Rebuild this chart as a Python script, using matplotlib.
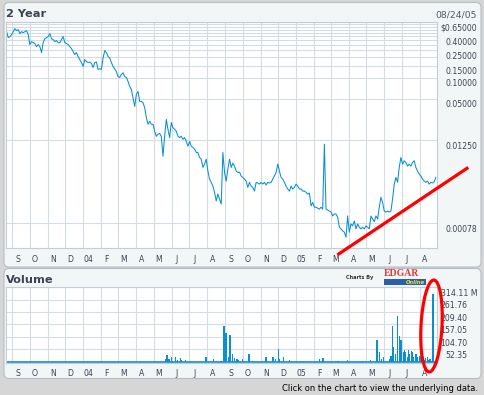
import numpy as np
import pandas as pd
import matplotlib
matplotlib.use("Agg")
import matplotlib.pyplot as plt
import matplotlib.dates as mdates
import matplotlib.transforms as mtransforms
from matplotlib.patches import FancyBboxPatch, Rectangle, Ellipse
from matplotlib.lines import Line2D
from matplotlib.ticker import FixedLocator, FuncFormatter, NullFormatter, NullLocator

# ---- data ----
price = [
    0.466, 0.382, 0.395, 0.422, 0.466, 0.515, 0.482, 0.498, 0.436, 0.466,
    0.451, 0.466, 0.482, 0.422, 0.303, 0.334, 0.323, 0.313, 0.283, 0.303,
    0.283, 0.232, 0.323, 0.369, 0.382, 0.395, 0.436, 0.369, 0.357, 0.334,
    0.346, 0.323, 0.323, 0.357, 0.395, 0.323, 0.313, 0.303, 0.283, 0.265,
    0.240, 0.217, 0.232, 0.203, 0.184, 0.166, 0.146, 0.184, 0.172, 0.166,
    0.169, 0.161, 0.141, 0.166, 0.169, 0.132, 0.135, 0.132, 0.194, 0.248,
    0.232, 0.203, 0.194, 0.166, 0.146, 0.135, 0.123, 0.104, 0.101, 0.112,
    0.118, 0.104, 0.101, 0.0884, 0.0749, 0.0678, 0.0515, 0.0385, 0.0574, 0.0634,
    0.0455, 0.0455, 0.0436, 0.0369, 0.0265, 0.0212, 0.0234, 0.0212, 0.0212, 0.0168,
    0.0142, 0.0152, 0.0156, 0.0142, 0.00731, 0.0142, 0.0250, 0.0179, 0.0136, 0.0224,
    0.0189, 0.0179, 0.0168, 0.0142, 0.0136, 0.0142, 0.0128, 0.0136, 0.0120, 0.0102,
    0.0120, 0.0102, 0.00976, 0.00923, 0.00826, 0.00826, 0.00700, 0.00661, 0.00502, 0.00560,
    0.00661, 0.00444, 0.00340, 0.00305, 0.00269, 0.00219, 0.00164, 0.00206, 0.00175, 0.00148,
    0.00826, 0.00425, 0.00318, 0.00474, 0.00661, 0.00502, 0.00579, 0.00524, 0.00444, 0.00425,
    0.00429, 0.00376, 0.00360, 0.00340, 0.00318, 0.00258, 0.00305, 0.00269, 0.00258, 0.00228,
    0.00305, 0.00298, 0.00288, 0.00305, 0.00288, 0.00305, 0.00279, 0.00305, 0.00298, 0.00305,
    0.00340, 0.00376, 0.00425, 0.00560, 0.00444, 0.00360, 0.00340, 0.00305, 0.00269, 0.00244,
    0.00228, 0.00269, 0.00244, 0.00258, 0.00288, 0.00269, 0.00244, 0.00244, 0.00228, 0.00228,
    0.00219, 0.00206, 0.00213, 0.00139, 0.00156, 0.00133, 0.00133, 0.00129, 0.00125, 0.00133,
    0.00125, 0.0109, 0.00125, 0.00121, 0.00117, 0.00113, 0.000994, 0.00106, 0.00106, 0.000951,
    0.000682, 0.000645, 0.000603, 0.000578, 0.000489, 0.000994, 0.000578, 0.000761, 0.000713, 0.000841,
    0.000645, 0.000761, 0.000682, 0.000645, 0.000682, 0.000645, 0.000713, 0.000682, 0.000645, 0.000994,
    0.000899, 0.000822, 0.000994, 0.000899, 0.00133, 0.00185, 0.00156, 0.00117, 0.00113, 0.00117,
    0.00113, 0.00117, 0.00175, 0.00288, 0.00360, 0.00305, 0.00502, 0.00700, 0.00560, 0.00626,
    0.00592, 0.00524, 0.00560, 0.00524, 0.00592, 0.00626, 0.00502, 0.00444, 0.00402, 0.00376,
    0.00340, 0.00318, 0.00305, 0.00318, 0.00288, 0.00305, 0.00298, 0.00311, 0.00360,
]
price_start, price_end = "2003-08-22", "2005-08-29"

vol_dates = [
    "2004-05-21", "2004-05-24", "2004-05-27", "2004-06-01", "2004-06-07", "2004-06-11",
    "2004-06-16", "2004-06-18", "2004-06-25", "2004-07-30", "2004-08-12", "2004-08-17",
    "2004-08-24", "2004-08-26", "2004-08-30", "2004-09-02", "2004-09-03", "2004-09-07",
    "2004-09-09", "2004-09-10", "2004-09-13", "2004-09-14", "2004-09-17", "2004-09-21",
    "2004-09-24", "2004-09-30", "2004-10-04", "2004-10-12", "2004-10-18", "2004-11-10",
    "2004-11-22", "2004-11-26", "2004-12-01", "2004-12-03", "2004-12-10", "2004-12-20",
    "2005-01-14", "2005-02-10", "2005-02-16", "2005-03-14", "2005-03-30", "2005-04-25",
    "2005-05-09", "2005-05-20", "2005-05-24", "2005-05-27", "2005-05-31", "2005-06-03",
    "2005-06-10", "2005-06-13", "2005-06-16", "2005-06-17", "2005-06-21", "2005-06-24",
    "2005-06-27", "2005-06-30", "2005-07-01", "2005-07-05", "2005-07-06", "2005-07-07",
    "2005-07-08", "2005-07-11", "2005-07-13", "2005-07-15", "2005-07-18", "2005-07-20",
    "2005-07-22", "2005-07-26", "2005-07-28", "2005-08-02", "2005-08-05", "2005-08-10",
    "2005-08-11", "2005-08-15", "2005-08-17", "2005-08-19", "2005-08-22", "2005-08-24",
]
vol_values = [  # millions
    11, 26, 9, 17, 17, 6, 14, 6, 6, 17, 9, 4,
    4, 4, 152, 119, 47, 19, 112, 105, 33, 23, 14, 10,
    6, 9, 4, 30, 4, 19, 19, 11, 52, 11, 19, 6,
    4, 11, 16, 4, 8, 4, 8, 92, 40, 11, 18, 4,
    11, 25, 149, 61, 33, 191, 110, 89, 54, 40, 47, 25,
    40, 21, 47, 33, 44, 40, 21, 30, 18, 25, 8, 7,
    16, 21, 8, 11, 4, 287,
]

price_grid = [0.65, 0.6, 0.55, 0.5, 0.45, 0.4, 0.35, 0.3, 0.25, 0.2, 0.15, 0.1, 0.05, 0.0125, 0.00078]
price_ticks = [0.65, 0.4, 0.25, 0.15, 0.1, 0.05, 0.0125, 0.00078]
price_labels = ["$0.65000", "0.40000", "0.25000", "0.15000", "0.10000", "0.05000", "0.01250", "0.00078"]
vol_ticks = [314.11, 261.76, 209.40, 157.05, 104.70, 52.35]
vol_labels = ["314.11 M", "261.76", "209.40", "157.05", "104.70", "52.35"]
month_letters = ["J", "F", "M", "A", "M", "J", "J", "A", "S", "O", "N", "D"]
x_range = ("2003-08-21", "2005-08-31")

# ---- style ----
W, H = 484, 395
BG = "#d6d6d6"
PANEL = "#f2f6f6"
EDGE = "#b4bec8"
GRID = "#d6dce4"
BLUE = "#0a8fd2"
TXT = "#3c4354"
FONT = 5.6

fig = plt.figure(figsize=(W / 100, H / 100), dpi=100)
fig.patch.set_facecolor(BG)
ident = mtransforms.IdentityTransform()


def panel(x0, y0, x1, y1):
    p = FancyBboxPatch((x0, H - y1), x1 - x0, y1 - y0,
                       boxstyle="round,pad=0,rounding_size=5", transform=ident,
                       fc=PANEL, ec=EDGE, lw=0.8, zorder=-1)
    fig.add_artist(p)


def ftext(x, y, s, **kw):
    kw.setdefault("color", TXT)
    fig.text(x, H - y, s, transform=ident, **kw)


panel(4, 2.5, 481, 267)
panel(4, 268.5, 481, 378.5)

xlo, xhi = pd.to_datetime(x_range[0]), pd.to_datetime(x_range[1])


def month_label(x, pos=None):
    d = mdates.num2date(x)
    return "%02d" % (d.year % 100) if d.month == 1 else month_letters[d.month - 1]


def setup_time_axis(ax):
    ax.set_xlim(xlo, xhi)
    ax.xaxis.set_major_locator(mdates.MonthLocator())
    ax.xaxis.set_major_formatter(NullFormatter())
    ax.xaxis.set_minor_locator(mdates.MonthLocator(bymonthday=10))
    ax.xaxis.set_minor_formatter(FuncFormatter(month_label))
    ax.tick_params(which="both", length=0)
    ax.tick_params(which="minor", axis="x", pad=4.7, labelsize=FONT, labelcolor=TXT)
    ax.tick_params(axis="y", labelleft=False, labelright=False)
    ax.grid(True, which="major", color=GRID, lw=0.8)
    ax.set_axisbelow(True)
    ax.set_facecolor("white")
    for s in ax.spines.values():
        s.set_color("#c4ccd6")
        s.set_linewidth(0.8)


# ---- price panel ----
ax = fig.add_axes([6 / W, 1 - 248 / H, 431 / W, 226.3 / H])
price_dates = pd.date_range(price_start, price_end, periods=len(price))
ax.plot(price_dates, price, color=BLUE, lw=0.75)
ax.set_yscale("log")
ax.set_ylim(0.000341, 0.65)
ax.yaxis.set_major_locator(FixedLocator(price_grid))
ax.yaxis.set_minor_locator(NullLocator())
ax.yaxis.set_major_formatter(NullFormatter())
ax.yaxis.set_minor_formatter(NullFormatter())
setup_time_axis(ax)

lab_tr = mtransforms.blended_transform_factory(ax.transAxes, ax.transData) + \
    mtransforms.ScaledTranslation(0, -0.015, fig.dpi_scale_trans)
for v, s in zip(price_ticks, price_labels):
    ax.text((477 - 6) / 431, v, s, transform=lab_tr, ha="right", va="top",
            fontsize=FONT, color=TXT, clip_on=False)

# ---- volume panel ----
ax2 = fig.add_axes([6 / W, 1 - 362.5 / H, 431 / W, 75.2 / H])
ax2.bar(pd.to_datetime(vol_dates), vol_values, width=2.2, color=BLUE, lw=0)
ax2.axhline(0, color=BLUE, lw=1.2)
ax2.set_ylim(-4.2, 314.11)
ax2.yaxis.set_major_locator(FixedLocator(vol_ticks))
ax2.yaxis.set_major_formatter(NullFormatter())
setup_time_axis(ax2)

vlab_tr = mtransforms.blended_transform_factory(ax2.transAxes, ax2.transData) + \
    mtransforms.ScaledTranslation(0, -0.018, fig.dpi_scale_trans)
for v, s in zip(vol_ticks, vol_labels):
    xr = 478 if s.endswith("M") else 467
    ax2.text((xr - 6) / 431, v, s, transform=vlab_tr, ha="right", va="top",
             fontsize=FONT, color=TXT, clip_on=False)

# ---- titles / captions ----
ftext(6, 17.3, "2 Year", fontsize=8.2, fontweight="bold", va="baseline")
ftext(477, 18, "08/24/05", fontsize=6.7, color="#50586a", ha="right", va="baseline")
ftext(6, 283.3, "Volume", fontsize=8.2, fontweight="bold", va="baseline")
ftext(478, 391, "Click on the chart to view the underlying data.", fontsize=6.0,
      color="black", ha="right", va="baseline")

# EDGAR Online badge
ftext(373, 279.5, "Charts By", fontsize=3.6, fontweight="bold", color="#333333",
      ha="right", va="baseline")
ftext(384, 276, "EDGAR", fontsize=7, family="Liberation Serif", fontweight="bold",
      color="#e23a3a", va="baseline")
fig.add_artist(Rectangle((384, H - 285), 42, 6, transform=ident, fc="#2d5fa8",
                         ec="none", zorder=3))
ftext(425, 284.2, "Online", fontsize=3.8, fontweight="bold", style="italic",
      color="#e6e23c", ha="right", va="baseline", zorder=4)

# hand-drawn red marks
fig.add_artist(Line2D([338.7, 467], [H - 254, H - 168.3], transform=ident,
                      color="red", lw=2.3, zorder=10))
fig.add_artist(Ellipse((431.5, H - 326), 21, 92, angle=-3, transform=ident,
                       fill=False, ec="red", lw=2.3, zorder=10))

fig.savefig("out.png", dpi=100, facecolor=BG)
